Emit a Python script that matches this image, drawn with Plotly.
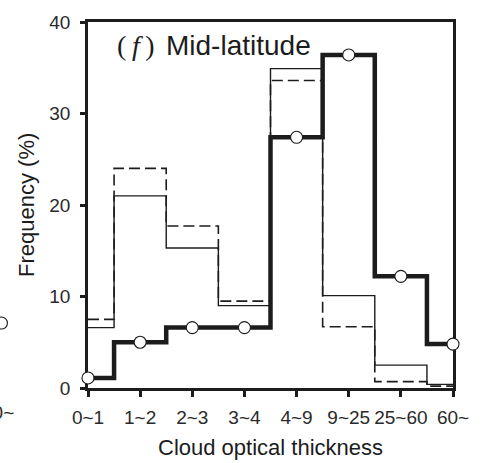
import plotly.graph_objects as go

# Cloud optical thickness bins
categories = ["0~1", "1~2", "2~3", "3~4", "4~9", "9~25", "25~60", "60~"]

# Frequency (%) per bin for the three histograms
freq_thick = [1.1, 5.0, 6.6, 6.6, 27.4, 36.4, 12.2, 4.8]
freq_solid = [6.6, 21.0, 15.3, 9.0, 34.9, 10.1, 2.5, 0.4]
freq_dashed = [7.5, 24.0, 17.7, 9.5, 33.6, 6.7, 0.7, 0.2]

y_ticks = [0, 10, 20, 30, 40]

# last value of the adjacent panel, whose right edge shows at the left border
neighbor_last = 7.1
neighbor_label = "60~"
NEIGHBOR_X = -1.66  # right spine of the adjacent panel, in bin units

INK = "#1c1c1c"
SANS = "Liberation Sans, Arial, sans-serif"
SERIF = "Liberation Serif, Times New Roman, serif"

bin_pos = list(range(len(categories)))
x_span = len(categories) - 1

fig = go.Figure()

fig.add_trace(go.Scatter(
    x=bin_pos, y=freq_solid, mode="lines", line_shape="hvh",
    line=dict(color=INK, width=1.4), hoverinfo="skip", showlegend=False,
))
fig.add_trace(go.Scatter(
    x=bin_pos, y=freq_dashed, mode="lines", line_shape="hvh",
    line=dict(color=INK, width=1.6, dash="11px,5px"), hoverinfo="skip",
    showlegend=False,
))
fig.add_trace(go.Scatter(
    x=bin_pos, y=freq_thick, mode="lines+markers", line_shape="hvh",
    line=dict(color=INK, width=4.5),
    marker=dict(size=12, color="white", line=dict(color=INK, width=1.1)),
    cliponaxis=False, hoverinfo="skip", showlegend=False,
))

fig.update_layout(
    width=481, height=463,
    margin=dict(l=88, r=20, t=15, b=75),
    paper_bgcolor="white", plot_bgcolor="white",
    font=dict(family=SANS, color=INK),
    xaxis=dict(
        range=[0, x_span], tickvals=bin_pos, ticktext=categories,
        showgrid=False, zeroline=False,
        showline=True, linecolor=INK, linewidth=2.6, mirror=True,
        ticks="outside", ticklen=6, tickwidth=2.6, tickcolor=INK,
        tickfont=dict(size=19, family=SANS, color="#2a2a2a"),
        ticklabelstandoff=4, layer="below traces",
    ),
    yaxis=dict(
        range=[0, 40], tickvals=y_ticks, showgrid=False, zeroline=False,
        showline=True, linecolor=INK, linewidth=2.6, mirror=True,
        ticks="outside", ticklen=5, tickwidth=2.6, tickcolor=INK,
        tickfont=dict(size=19, family=SANS, color="#2a2a2a"),
        ticklabelstandoff=6, layer="below traces",
    ),
    shapes=[
        # clipped marker of the neighbouring panel
        dict(type="circle", xref="paper", yref="y",
             xsizemode="pixel", ysizemode="pixel",
             xanchor=NEIGHBOR_X / x_span, yanchor=neighbor_last,
             x0=-6, x1=6, y0=-6, y1=6,
             fillcolor="white", line=dict(color=INK, width=1.1)),
    ],
    annotations=[
        dict(text="(\u2009<i>f</i>\u2009)", xref="paper", yref="paper", x=0.074, y=0.935,
             xanchor="left", yanchor="middle", showarrow=False,
             font=dict(size=28, family=SERIF, color=INK)),
        dict(text="Mid-latitude", xref="paper", yref="paper", x=0.209, y=0.935,
             xanchor="left", yanchor="middle", showarrow=False,
             font=dict(size=28, family=SANS, color=INK)),
        dict(text="Frequency (%)", xref="paper", yref="paper", x=-0.17, y=0.5,
             xanchor="center", yanchor="middle", textangle=-90, showarrow=False,
             font=dict(size=22, family=SANS, color=INK)),
        dict(text="Cloud optical thickness", xref="paper", yref="paper",
             x=0.5, y=-0.163, xanchor="center", yanchor="middle", showarrow=False,
             font=dict(size=22, family=SANS, color=INK)),
        dict(text=neighbor_label, xref="paper", yref="paper", x=-0.198, y=-0.068,
             xanchor="right", yanchor="middle", showarrow=False,
             font=dict(size=19, family=SANS, color="#2a2a2a")),
    ],
)

fig.write_html("out.html")
